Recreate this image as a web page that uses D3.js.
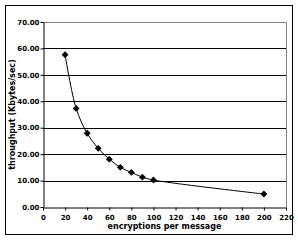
<!DOCTYPE html>
<html>
<head>
<meta charset="utf-8">
<script src="https://cdn.jsdelivr.net/npm/d3@7"></script>
<style>
body { margin: 0; background: white; }
</style>
</head>
<body>
<div id="chart"></div>
<script>
// data
var encryptions = [20, 30, 40, 50, 60, 70, 80, 90, 100, 200];
var throughput = [57.6, 37.3, 27.9, 22.2, 18.1, 15.0, 13.1, 11.3, 10.2, 4.9];
var xTicks = [0, 20, 40, 60, 80, 100, 120, 140, 160, 180, 200, 220];
var yTicks = [0, 10, 20, 30, 40, 50, 60, 70];

var w = 298, h = 240;
var plotLeft = 43, plotRight = 286, plotTop = 22, plotBottom = 207;
var font = "'DejaVu Sans', Verdana, sans-serif";

var svg = d3.select("#chart").append("svg")
    .attr("width", w).attr("height", h);

// outer frame
svg.append("rect")
    .attr("x", 5.5).attr("y", 5.5)
    .attr("width", 287).attr("height", 229)
    .attr("fill", "white").attr("stroke", "black").attr("stroke-width", 1);

var x = d3.scaleLinear().domain([0, 220]).range([plotLeft, plotRight]);
var y = d3.scaleLinear().domain([0, 70]).range([plotBottom, plotTop]);

// gridlines
svg.append("g").selectAll("line")
    .data(yTicks.slice(1, -1))
    .enter().append("line")
    .attr("x1", plotLeft).attr("x2", plotRight)
    .attr("y1", function(d){ return Math.round(y(d)) + 0.5; })
    .attr("y2", function(d){ return Math.round(y(d)) + 0.5; })
    .attr("stroke", "black");

// plot border top/right gray
svg.append("path")
    .attr("d", "M" + plotLeft + "," + (plotTop + 0.5) + "H" + (plotRight + 0.5) + "V" + plotBottom)
    .attr("fill", "none").attr("stroke", "#808080");

// axes
var xAxis = svg.append("g")
    .attr("transform", "translate(0," + (plotBottom + 0.5) + ")")
    .call(d3.axisBottom(x).tickValues(xTicks).tickSize(3).tickSizeOuter(0).tickFormat(d3.format("d")));
var yAxis = svg.append("g")
    .attr("transform", "translate(" + (plotLeft + 0.5) + ",0)")
    .call(d3.axisLeft(y).tickValues(yTicks).tickSize(3).tickSizeOuter(0).tickFormat(d3.format(".2f")));

[xAxis, yAxis].forEach(function(a){
    a.select(".domain").attr("stroke", "black");
    a.selectAll(".tick line").attr("stroke", "black");
    a.selectAll("text")
        .attr("font-family", font).attr("font-size", 7).attr("font-weight", "bold")
        .attr("fill", "black");
});
xAxis.selectAll("text").attr("dy", "0.9em");
yAxis.selectAll("text").attr("x", -4);

// smoothed line
var line = d3.line()
    .x(function(d, i){ return x(encryptions[i]); })
    .y(function(d){ return y(d); })
    .curve(d3.curveCatmullRom.alpha(0.5));

svg.append("path")
    .datum(throughput)
    .attr("d", line)
    .attr("fill", "none").attr("stroke", "black").attr("stroke-width", 1);

// diamond markers
svg.append("g").selectAll("path")
    .data(throughput)
    .enter().append("path")
    .attr("d", d3.symbol().type(d3.symbolDiamond2).size(30))
    .attr("transform", function(d, i){ return "translate(" + x(encryptions[i]) + "," + y(d) + ")"; })
    .attr("fill", "black");

// axis titles
svg.append("text")
    .attr("x", (plotLeft + plotRight) / 2).attr("y", 229)
    .attr("text-anchor", "middle")
    .attr("font-family", font).attr("font-size", 8).attr("font-weight", "bold")
    .text("encryptions per message");

svg.append("text")
    .attr("transform", "translate(15," + ((plotTop + plotBottom) / 2) + ") rotate(-90)")
    .attr("text-anchor", "middle")
    .attr("font-family", font).attr("font-size", 8).attr("font-weight", "bold")
    .text("throughput (Kbytes/sec)");
</script>
</body>
</html>
